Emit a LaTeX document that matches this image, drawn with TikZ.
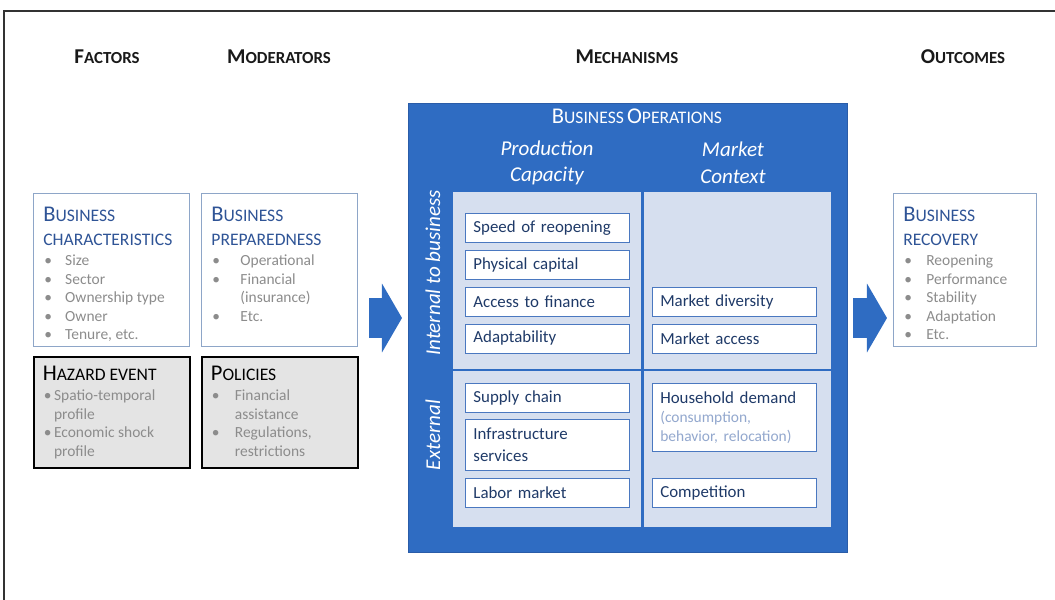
\documentclass[tikz,border=0pt]{standalone}
\usepackage{fontspec}
\setmainfont{Carlito}
\usetikzlibrary{positioning,arrows.meta}

\definecolor{titleblue}{HTML}{2F5496}
\definecolor{boxedge}{HTML}{8EA6C8}
\definecolor{itemgray}{HTML}{8C8C8C}
\definecolor{hazardgray}{HTML}{E4E4E4}
\definecolor{opsblue}{HTML}{2F6CC2}
\definecolor{opsedge}{HTML}{2A5CA8}
\definecolor{panelblue}{HTML}{D6DFEF}
\definecolor{celledge}{HTML}{4A78C0}
\definecolor{celltext}{HTML}{1F3A68}
\definecolor{notetext}{HTML}{93A8CE}

\newcommand{\itm}[2][15.6pt]{\makebox[#1][l]{\hspace{0.7pt}\textbullet}#2}
\newcommand{\cnt}[2][15.6pt]{\hspace*{#1}#2}
\newcommand{\hdr}[2]{{\fontsize{15}{17}\selectfont\bfseries #1}{\fontsize{12}{14}\selectfont\bfseries #2}}
\newcommand{\ttl}[2]{{\fontsize{16}{18}\selectfont #1}{\fontsize{12.5}{14}\selectfont #2}}

\begin{document}
\begin{tikzpicture}
  [x=0.025cm, y=-0.025cm,
  header/.style={text=black!90},
  infobox/.style={rectangle, draw=boxedge, line width=0.8pt, minimum width=3.9cm, minimum height=3.825cm, anchor=north west},
  eventbox/.style={rectangle, draw=black, fill=hazardgray, line width=1.5pt, minimum width=3.9cm, minimum height=2.775cm, anchor=north west},
  boxtext/.style={anchor=north west, align=left, inner xsep=0.25cm, inner ysep=0.35cm, text=itemgray, font=\fontsize{11}{13.2}\selectfont},
  opbox/.style={rectangle, draw=celledge, line width=0.6pt, fill=white, minimum width=4.1cm, minimum height=0.725cm, text width=3.7cm, inner xsep=0.2cm, align=left, text=celltext, font=\fontsize{12}{15}\selectfont},
  colhead/.style={text=white, align=center, font=\fontsize{15}{19}\selectfont\itshape},
  sidehead/.style={text=white, rotate=90, font=\fontsize{15}{18}\selectfont\itshape},
  divider/.style={draw=opsblue, line width=2pt},
  blockarrow/.style={draw=opsblue, line width=1cm, -{Triangle[length=0.5cm, width=1.7cm]}}]
  \useasboundingbox (0,0) rectangle (1055,600);
  \draw [line width=0.8pt, black!80] (4,600) -- (4,11) -- (1055,11);
  % column heads
  \node [header] (factors) at (107,57) {\hdr{F}{ACTORS}};
  \node [header] (moderators) at (279,57) {\hdr{M}{ODERATORS}};
  \node [header] (mechanisms) at (627,57) {\hdr{M}{ECHANISMS}};
  \node [header] (outcomes) at (963,57) {\hdr{O}{UTCOMES}};
  % factors and moderators
  \node [infobox] (charact) at (33,193) {};
  \node [infobox, right=0.275cm of charact] (prepared) {};
  \node [eventbox, below=0.225cm of charact] (hazard) {};
  \node [eventbox, below=0.225cm of prepared] (policies) {};
  \node [boxtext] at (charact.north west) {%
    \textcolor{titleblue}{\ttl{B}{USINESS}}\\[3.8pt]
    \textcolor{titleblue}{\ttl{}{CHARACTERISTICS}}\\[1pt]
    \itm{Size}\\ \itm{Sector}\\ \itm{Ownership type}\\ \itm{Owner}\\ \itm{Tenure, etc.}};
  \node [boxtext] at (prepared.north west) {%
    \textcolor{titleblue}{\ttl{B}{USINESS}}\\[3.8pt]
    \textcolor{titleblue}{\ttl{}{PREPAREDNESS}}\\[1pt]
    \itm[20.6pt]{Operational}\\ \itm[20.6pt]{Financial}\\ \cnt[20.6pt]{(insurance)}\\ \itm[20.6pt]{Etc.}};
  \node [boxtext, inner ysep=0.25cm] at (hazard.north west) {%
    \textcolor{black}{\ttl{H}{AZARD EVENT}}\\[1pt]
    \itm[8pt]{Spatio-temporal}\\ \cnt[8pt]{profile}\\ \itm[8pt]{Economic shock}\\ \cnt[8pt]{profile}};
  \node [boxtext, inner ysep=0.25cm] at (policies.north west) {%
    \textcolor{black}{\ttl{P}{OLICIES}}\\[1pt]
    \itm[17pt]{Financial}\\ \cnt[17pt]{assistance}\\ \itm[17pt]{Regulations,}\\ \cnt[17pt]{restrictions}};
  % mechanisms
  \node [rectangle, fill=opsblue, draw=opsedge, line width=0.8pt, minimum width=10.975cm, minimum height=11.225cm, anchor=north west] (ops) at (408,103) {};
  \node [rectangle, fill=panelblue, minimum width=9.45cm, minimum height=8.375cm, anchor=north west] (panel) at (453,192) {};
  \coordinate (midrow) at (0,370);
  \draw [divider] (panel.north) -- (panel.south);
  \draw [divider] (panel.west |- midrow) -- (panel.east |- midrow);
  \node [text=white] (opstitle) at (637,116) {\ttl{B}{USINESS} \ttl{O}{PERATIONS}};
  \node [colhead] (production) at (547,163) {Production\\Capacity};
  \node [colhead] (market) at (733,163) {Market\\Context};
  \node [sidehead] (internal) at (433,273) {Internal to business};
  \node [sidehead] (external) at (433,435) {External};
  \node [opbox, anchor=north west] (speed) at (465,213) {Speed of reopening};
  \node [opbox, below=0.175cm of speed] (physical) {Physical capital};
  \node [opbox, below=0.175cm of physical] (finance) {Access to finance};
  \node [opbox, below=0.175cm of finance] (adapt) {Adaptability};
  \node [opbox, right=0.55cm of finance] (diversity) {Market diversity};
  \node [opbox, right=0.55cm of adapt] (access) {Market access};
  \node [opbox, anchor=north west] (supply) at (465,383) {Supply chain};
  \node [opbox, below=0.15cm of supply, minimum height=1.275cm] (infra) {Infrastructure\\services};
  \node [opbox, below=0.175cm of infra] (labor) {Labor market};
  \node [opbox, minimum height=1.7cm, anchor=north west] (household) at ([xshift=0.55cm]supply.north east) {Household demand\\[-1pt]
    \textcolor{notetext}{\fontsize{11}{13}\selectfont (consumption,}\\[-2pt]
    \textcolor{notetext}{\fontsize{11}{13}\selectfont behavior, relocation)}};
  \node [opbox, right=0.55cm of labor] (competition) {Competition};
  % outcomes
  \node [infobox, minimum width=3.575cm] (recovery) at (893,193) {};
  \node [boxtext] at (recovery.north west) {%
    \textcolor{titleblue}{\ttl{B}{USINESS}}\\[3.8pt]
    \textcolor{titleblue}{\ttl{}{RECOVERY}}\\[1pt]
    \itm[16.4pt]{Reopening}\\ \itm[16.4pt]{Performance}\\ \itm[16.4pt]{Stability}\\ \itm[16.4pt]{Adaptation}\\ \itm[16.4pt]{Etc.}};
  % flow arrows
  \coordinate (flowrow) at (0,318);
  \draw [blockarrow, shorten <=0.275cm, shorten >=0.15cm] (prepared.east |- flowrow) -- (ops.west |- flowrow);
  \draw [blockarrow, shorten <=0.125cm, shorten >=0.15cm] (ops.east |- flowrow) -- (recovery.west |- flowrow);
\end{tikzpicture}
\end{document}
